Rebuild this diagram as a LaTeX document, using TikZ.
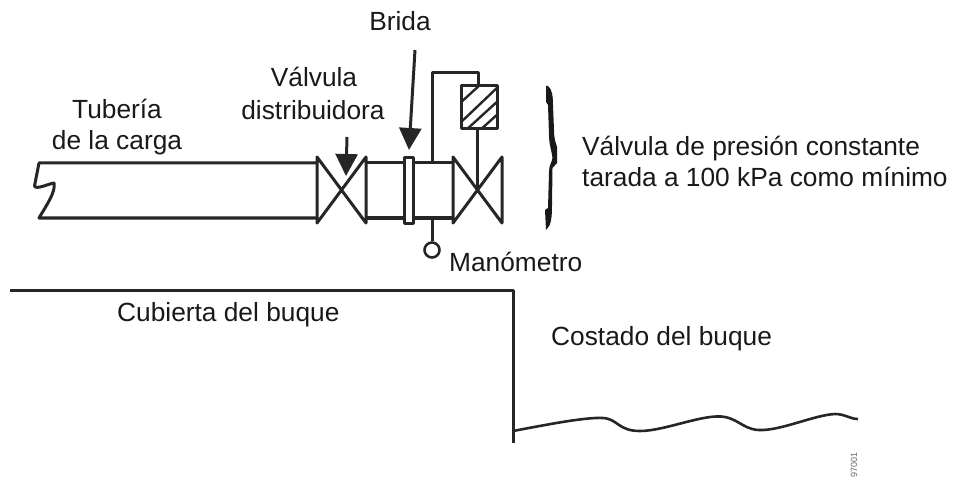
\documentclass[tikz,border=0pt]{standalone}
\usepackage{fontspec}
\setmainfont{Liberation Sans}
\usetikzlibrary{arrows.meta}
\tikzset{
  pipe/.style={draw=black!85,line width=3pt,line join=round},
  lbl/.style={anchor=base,inner sep=0pt,font=\fontsize{26.3}{30}\selectfont,text=black!90},
  lbll/.style={lbl,anchor=base west},
  callout/.style={draw=black!85,line width=3pt,-{Triangle[length=22pt,width=22pt]}},
}
\begin{document}
\begin{tikzpicture}[x=1pt,y=-1pt]
\useasboundingbox (0,0) rectangle (958,481);
% texts
\node[lbl] (t1) at (117,119) {Tubería};
\node[lbl] (t2) at (117,150) {de la carga};
\node[lbl] (t3) at (314,87) {Válvula};
\node[lbl] (t4) at (313,120) {distribuidora};
\node[lbl] (t5) at (400,31) {Brida};
\node[lbll] (t6) at (582,156) {Válvula de presión constante};
\node[lbll] (t7) at (582,187) {tarada a 100 kPa como mínimo};
\node[lbll] (t8) at (449,271) {Manómetro};
\node[lbll] (t9) at (117,321) {Cubierta del buque};
\node[lbll] (t10) at (551,345) {Costado del buque};
\node[rotate=90,inner sep=0pt,font=\fontsize{9}{10}\selectfont,text=black!60] (code) at (854,465) {97001};
% pipe with broken end
\coordinate (ptop) at (39,163);
\coordinate (pbot) at (39,218);
\draw[pipe] (317,163) -- (ptop) -- (34.5,186) .. controls (36,190) and (48,184) .. (54,183)
  .. controls (56,192) and (46,206) .. (pbot) -- (317,218);
% first valve
\coordinate (v1) at (341.5,190);
\draw[pipe] (317,157) -- (366,223) -- (366,157) -- (317,223) -- cycle;
% pipe between valves
\draw[pipe] (366,163) -- (404,163) (366,218) -- (404,218);
\draw[pipe] (413,163) -- (453,163) (413,218) -- (453,218);
% flange
\node[pipe,fill=white,minimum width=9pt,minimum height=65pt,inner sep=0pt,outer sep=0pt] (flange) at (408.5,190.5) {};
% second valve
\coordinate (v2) at (477.5,190);
\draw[pipe] (453,157) -- (502,223) -- (502,157) -- (453,223) -- cycle;
% actuator box with hatching
\node[draw=none,minimum width=36pt,minimum height=43pt,inner sep=0pt,outer sep=0pt] (act) at (479,107.5) {};
\begin{scope}
\clip (act.north west) rectangle (act.south east);
\draw[line width=2.4pt,black!85]
  (458,105) -- (481,84)
  (458,125) -- (499,86)
  (465,131) -- (499,100)
  (479,131) -- (499,113);
\end{scope}
\draw[pipe] (act.north west) rectangle (act.south east);
% pilot line
\coordinate (tee) at (432,163);
\coordinate (c1) at (432,73);
\coordinate (c2) at (478,73);
\draw[pipe] (tee) -- (c1) -- (c2) -- (c2 |- act.north);
\draw[pipe] (v2 |- act.south) -- (v2);
% gauge
\node[draw=black!85,line width=2.6pt,circle,minimum size=15pt,inner sep=0pt] (gauge) at (432,250) {};
\coordinate (gtee) at (432,218);
\draw[pipe] (gtee) -- (gauge.north);
% arrows
\coordinate (a1) at (347,137);
\coordinate (a2) at (346,176);
\draw[callout] (a1) -- (a2);
\coordinate (b1) at (415,50);
\coordinate (b2) at (409,150);
\draw[callout] (b1) -- (b2);
% brace
\fill[black!90] (548,86) .. controls (552,89) and (553,96) .. (553,105)
  -- (554,130) .. controls (554,140) and (556,143) .. (557,147)
  -- (557,163) -- (552.5,168)
  -- (552,205) .. controls (552,218) and (551,226) .. (546,230)
  -- (545,210) -- (548,208)
  -- (549,172) .. controls (549,165) and (552,162) .. (552.5,158)
  .. controls (552,152) and (549,145) .. (549,135)
  -- (548,105) -- (546,102) -- (546,86) -- cycle;
% deck and side
\coordinate (d1) at (10,290);
\coordinate (d2) at (513,290);
\coordinate (d3) at (513,443);
\draw[pipe] (d1) -- (d2) -- (d3);
% sea
\coordinate (s0) at (513,431);
\draw[draw=black!85,line width=2.6pt] (s0) .. controls (545,425) and (585,417) .. (603,418)
  .. controls (618,419) and (618,431) .. (640,431)
  .. controls (665,431) and (705,413) .. (725,417)
  .. controls (740,420) and (745,431) .. (763,430)
  .. controls (785,429) and (815,415) .. (835,414)
  .. controls (845,414) and (850,419) .. (858,419);
\end{tikzpicture}
\end{document}
